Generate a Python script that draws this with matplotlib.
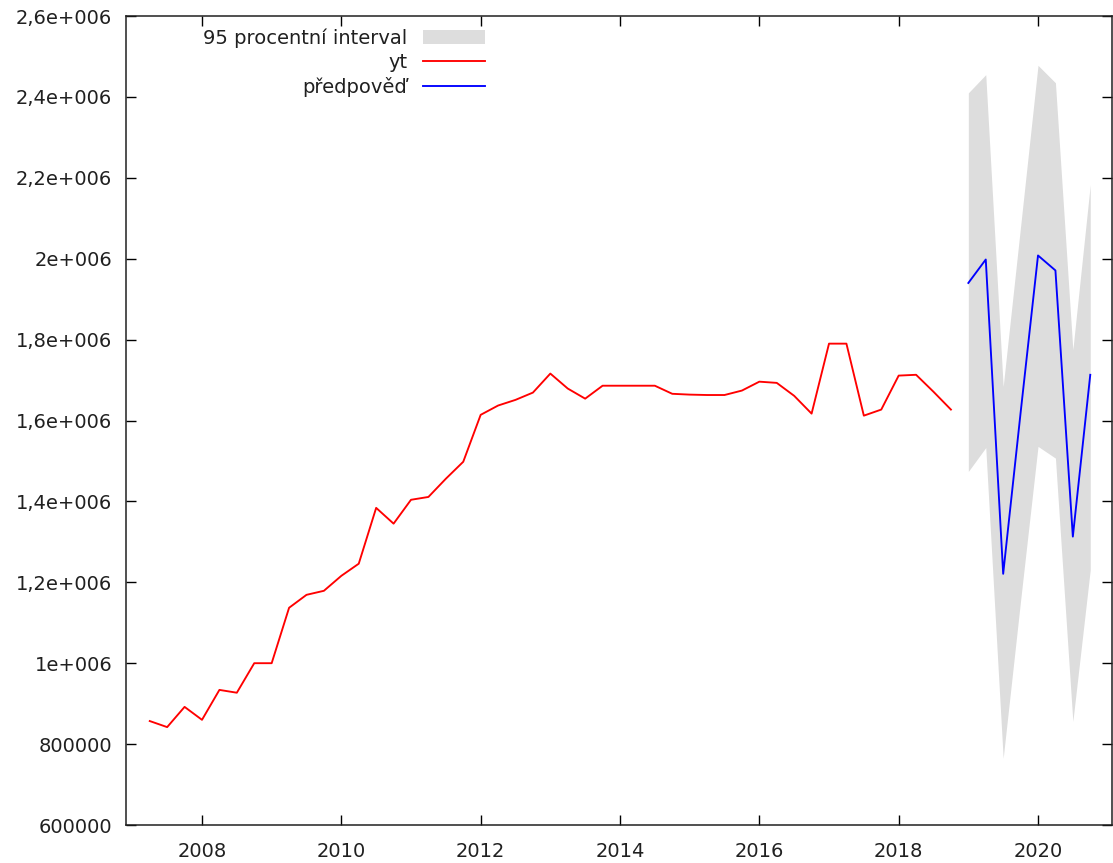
import numpy as np
import matplotlib
matplotlib.use("Agg")
import matplotlib.pyplot as plt
from matplotlib.patches import Patch
from matplotlib.lines import Line2D
from matplotlib.ticker import FixedLocator, FixedFormatter

# Observed series yt, quarterly 2007:2 - 2018:4
yt_start = 2007.25
yt = [857000, 842000, 892000, 860000, 934000, 927000, 1000000, 1000000,
      1137000, 1169000, 1179000, 1216000, 1246000, 1384000, 1345000, 1404000,
      1411000, 1456000, 1498000, 1614000, 1637000, 1651000, 1669000, 1716000,
      1679000, 1654000, 1686000, 1686000, 1686000, 1686000, 1666000, 1664000,
      1663000, 1663000, 1674000, 1696000, 1693000, 1661000, 1617000, 1790000,
      1790000, 1612000, 1627000, 1711000, 1713000, 1671000, 1627000]

# Forecast 2019:1 - 2020:4
fc_start = 2019.0
forecast = [1940000, 1998000, 1221000, 1619000, 2008000, 1971000, 1313000, 1713000]
upper = [2410000, 2455000, 1684000, 2080000, 2478000, 2435000, 1775000, 2183000]
lower = [1474000, 1533000, 765000, 1155000, 1536000, 1507000, 856000, 1231000]

x_ticks = [2008, 2010, 2012, 2014, 2016, 2018, 2020]
y_ticks = [600000, 800000, 1000000, 1200000, 1400000, 1600000, 1800000,
           2000000, 2200000, 2400000, 2600000]
y_tick_labels = ["600000", "800000", "1e+006", "1,2e+006", "1,4e+006", "1,6e+006",
                 "1,8e+006", "2e+006", "2,2e+006", "2,4e+006", "2,6e+006"]

legend_labels = ["95 procentní interval", "yt", "předpověď"]

FS = 14
W, H = 1113, 863
fig = plt.figure(figsize=(W / 100, H / 100), dpi=100)
ax = fig.add_axes([125.5 / W, 1 - 825 / H, (1112 - 125.5) / W, (825 - 16) / H])

x_yt = yt_start + 0.25 * np.arange(len(yt))
x_fc = fc_start + 0.25 * np.arange(len(forecast))

ax.fill_between(x_fc, lower, upper, color="#dddddd", linewidth=0, zorder=1)
ax.plot(x_yt, yt, color="#ff0000", lw=1.35, zorder=2)
ax.plot(x_fc, forecast, color="#0000ff", lw=1.35, zorder=3)

ax.set_xlim(2006.902, 2021.062)
ax.set_ylim(600000, 2600000)

ax.xaxis.set_major_locator(FixedLocator(x_ticks))
ax.xaxis.set_major_formatter(FixedFormatter([str(v) for v in x_ticks]))
ax.yaxis.set_major_locator(FixedLocator(y_ticks))
ax.yaxis.set_major_formatter(FixedFormatter(y_tick_labels))

ax.tick_params(axis="both", which="major", direction="in", length=7.2, width=1.0,
               top=True, right=True, labelsize=FS, colors="black")
ax.tick_params(axis="x", pad=12)
ax.tick_params(axis="y", pad=9.5)
for sp in ax.spines.values():
    sp.set_linewidth(1.1)
    sp.set_color("#202020")
for lab in ax.get_xticklabels() + ax.get_yticklabels():
    lab.set_color("#202020")

handles = [Patch(facecolor="#dddddd", edgecolor="none"),
           Line2D([], [], color="#ff0000", lw=1.35),
           Line2D([], [], color="#0000ff", lw=1.35)]
leg = fig.legend(handles, legend_labels, loc="upper right",
                 bbox_to_anchor=(485 / W, 1 - 28 / H), frameon=False,
                 markerfirst=False, fontsize=FS, handlelength=3.2,
                 handleheight=0.75, handletextpad=0.8, labelspacing=0.27,
                 borderpad=0, borderaxespad=0)
for t in leg.get_texts():
    t.set_ha("right")
    t.set_color("#202020")
leg._legend_box.align = "right"

fig.savefig("out.png", dpi=100)
